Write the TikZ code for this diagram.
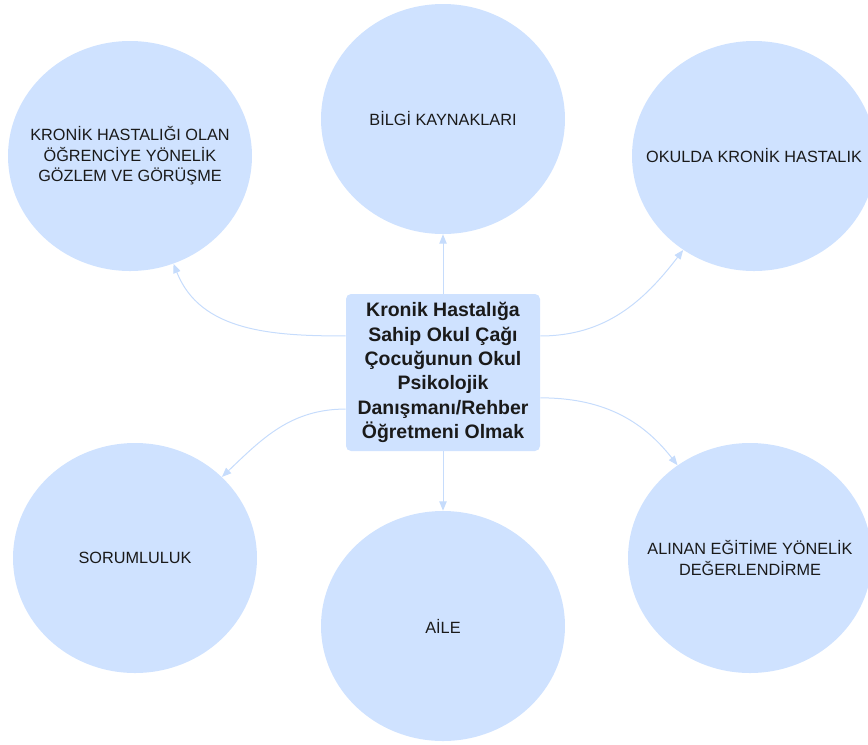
\documentclass[tikz,border=0pt]{standalone}
\usepackage{fontspec}
\setmainfont{Liberation Sans}
\usetikzlibrary{shapes.geometric,arrows.meta}
\definecolor{bubble}{HTML}{CFE2FF}
\definecolor{linkblue}{HTML}{C6DCFC}
\definecolor{ink}{HTML}{1A1A1A}

\begin{document}
\begin{tikzpicture}[x=0.75pt,y=-0.75pt,
  topic/.style={ellipse, fill=bubble, minimum width=183pt, minimum height=172.5pt, inner sep=0pt},
  topictext/.style={align=center, text=ink, font=\fontsize{12.2}{15.4}\selectfont},
  hubbox/.style={rectangle, rounded corners=3.75pt, fill=bubble, minimum width=145.5pt,
    minimum height=117.75pt, align=center, text=ink, inner sep=0pt,
    font=\fontsize{14.6}{18.3}\selectfont\bfseries},
  connector/.style={draw=linkblue, line width=0.75pt, -{Triangle[length=7pt,width=5.5pt]}}
]
\useasboundingbox (0,0) rectangle (868,744);

% outer topics
\node[topic] (tl) at (130,156) {};
\node[topic] (tc) at (443,119) {};
\node[topic] (tr) at (754,156) {};
\node[topic] (bl) at (135,558) {};
\node[topic] (bc) at (443,626) {};
\node[topic] (br) at (750,558) {};

\node[topictext] (tl-t) at (tl.center) {KRONİK HASTALIĞI OLAN\\ÖĞRENCİYE YÖNELİK\\GÖZLEM VE GÖRÜŞME};
\node[topictext] (tc-t) at (tc.center) {BİLGİ KAYNAKLARI};
\node[topictext] (tr-t) at (tr.center) {OKULDA KRONİK HASTALIK};
\node[topictext] (bl-t) at (bl.center) {SORUMLULUK};
\node[topictext] (bc-t) at (bc.center) {AİLE};
\node[topictext] (br-t) at (br.center) {ALINAN EĞİTİME YÖNELİK\\DEĞERLENDİRME};

% central topic
\node[hubbox] (hub) at (443,372.5) {Kronik Hastalığa\\Sahip Okul Çağı\\Çocuğunun Okul\\Psikolojik\\Danışmanı/Rehber\\Öğretmeni Olmak};

% connectors
\draw[connector] ([yshift=27.4pt]hub.west) to[out=180,in=-68.5] (tl.-68.5);
\draw[connector] (hub.north) -- (tc.south);
\draw[connector] ([yshift=27.4pt]hub.east) to[out=0,in=-127.5] (tr.-127.5);
\draw[connector] ([yshift=-27.4pt]hub.west) to[out=180,in=43.6] (bl.43.6);
\draw[connector] (hub.south) -- (bc.north);
\draw[connector] ([yshift=-19pt]hub.east) to[out=0,in=128] (br.128);
\end{tikzpicture}
\end{document}
